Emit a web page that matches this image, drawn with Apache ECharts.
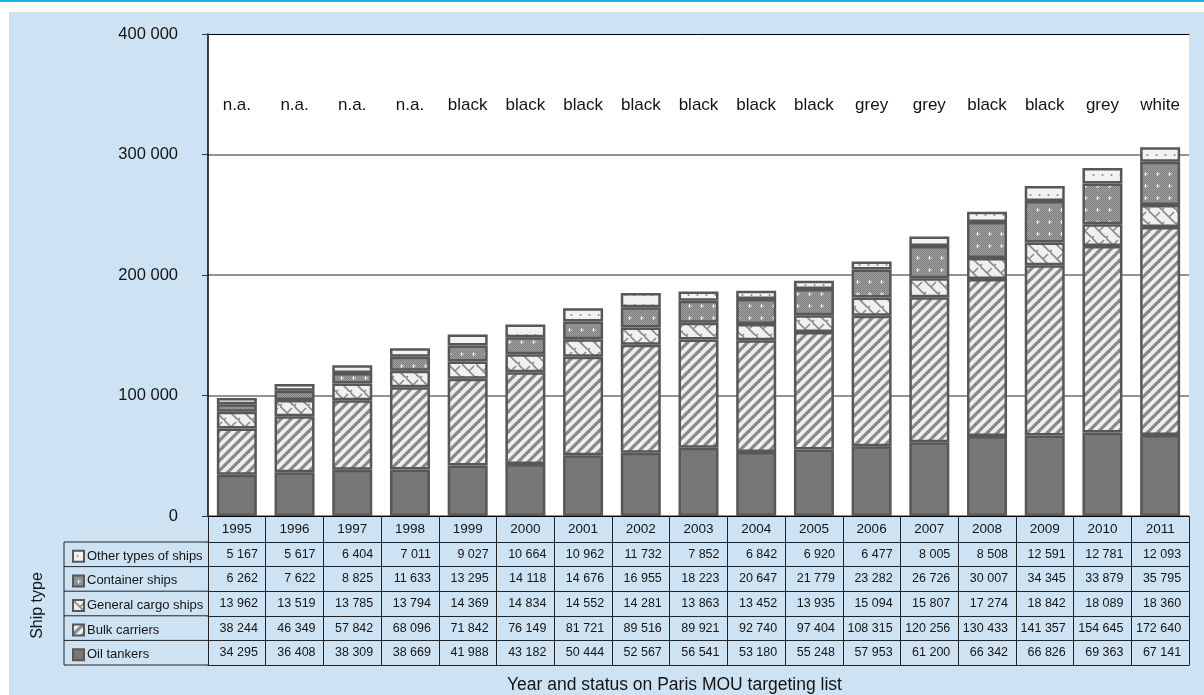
<!DOCTYPE html>
<html>
<head>
<meta charset="utf-8">
<script src="https://cdn.jsdelivr.net/npm/echarts@6.0.0/dist/echarts.min.js"></script>
<style>
  html, body { margin:0; padding:0; width:1204px; height:695px; overflow:hidden; background:#ffffff; }
  #topline { position:absolute; left:0; top:0; width:1204px; height:2px; background:#17b4e9; }
  #bg { position:absolute; left:9px; top:12px; width:1195px; height:683px; background:#cde3f3; }
  #chart { position:absolute; left:0; top:0; width:1204px; height:695px; }
</style>
</head>
<body>
<div id="topline"></div>
<div id="bg"></div>
<div id="chart"></div>
<script>
// ---------- data ----------
const years = ['1995','1996','1997','1998','1999','2000','2001','2002','2003','2004','2005','2006','2007','2008','2009','2010','2011'];
const statusList = ['n.a.','n.a.','n.a.','n.a.','black','black','black','black','black','black','black','grey','grey','black','black','grey','white'];
const oilTankers = [34295,36408,38309,38669,41988,43182,50444,52567,56541,53180,55248,57953,61200,66342,66826,69363,67141];
const bulkCarriers = [38244,46349,57842,68096,71842,76149,81721,89516,89921,92740,97404,108315,120256,130433,141357,154645,172640];
const generalCargo = [13962,13519,13785,13794,14369,14834,14552,14281,13863,13452,13935,15094,15807,17274,18842,18089,18360];
const containerShips = [6262,7622,8825,11633,13295,14118,14676,16955,18223,20647,21779,23282,26726,30007,34345,33879,35795];
const otherShips = [5167,5617,6404,7011,9027,10664,10962,11732,7852,6842,6920,6477,8005,8508,12591,12781,12093];
const seriesNames = ['Oil tankers','Bulk carriers','General cargo ships','Container ships','Other types of ships'];
const yMin = 0, yMax = 400000, yStep = 100000;
const xTitle = 'Year and status on Paris MOU targeting list';
const tableTitle = 'Ship type';

// ---------- style ----------
const FONT = "'Liberation Sans', Arial, sans-serif";
const TXT = '#141414';
const GRID_LEFT = 208, GRID_TOP = 34, GRID_RIGHT = 15, GRID_BOTTOM = 179;
const YEAR_ROW = 26, ROW_H = 24.6;
const TABLE_LEFT = 64;

function fmt(v) { return String(v).replace(/\B(?=(\d{3})+(?!\d))/g, ' '); }

function tile(w, h, draw) {
  const c = document.createElement('canvas');
  c.width = w; c.height = h;
  const g = c.getContext('2d');
  draw(g, w, h);
  return { image: c, repeat: 'repeat' };
}
const patBulk = tile(10, 10, (g, w, h) => {
  g.fillStyle = '#efefef'; g.fillRect(0, 0, w, h);
  g.strokeStyle = '#888888'; g.lineWidth = 3.2;
  for (let k = -1; k <= 1; k++) {
    g.beginPath(); g.moveTo(k * w - 2, h + 2); g.lineTo(k * w + w + 2, -2); g.stroke();
  }
});
const patGeneral = tile(14, 14, (g, w, h) => {
  g.fillStyle = '#f0f0f0'; g.fillRect(0, 0, w, h);
  g.strokeStyle = '#8a8a8a'; g.lineWidth = 1.6;
  g.beginPath(); g.moveTo(-1, -1); g.lineTo(w + 1, h + 1); g.stroke();
  g.beginPath(); g.moveTo(7, 7); g.lineTo(12, 2); g.stroke();
  g.beginPath(); g.moveTo(0, 14); g.lineTo(2, 12); g.stroke();
});
const patContainer = tile(12, 12, (g, w, h) => {
  g.fillStyle = '#9e9e9e'; g.fillRect(0, 0, w, h);
  g.fillStyle = '#808080';
  for (let x = 0; x < w; x++) for (let y = 0; y < h; y++) if ((x + y) % 2 === 0) g.fillRect(x, y, 1, 1);
  g.fillStyle = '#e6e6e6';
  g.fillRect(5, 4, 1, 4); g.fillRect(4, 5.5, 4, 1);
});
const patOther = tile(9, 10, (g, w, h) => {
  g.fillStyle = '#f2f2f2'; g.fillRect(0, 0, w, h);
  g.fillStyle = '#8a8a8a';
  g.beginPath(); g.arc(4.5, 5, 1, 0, Math.PI * 2); g.fill();
});
const fills = ['#777777', patBulk, patGeneral, patContainer, patOther];
const seriesData = [oilTankers, bulkCarriers, generalCargo, containerShips, otherShips];

// table rows (top to bottom)
const tableRows = [otherShips, containerShips, generalCargo, bulkCarriers, oilTankers];

function rowAxis(offset, values) {
  return {
    type: 'category', data: years, gridIndex: 0, position: 'bottom', offset: offset,
    axisLine: { show: true, lineStyle: { color: '#222', width: 1 } },
    axisTick: { show: true, interval: 0, length: ROW_H, lineStyle: { color: '#222', width: 1 } },
    axisLabel: {
      interval: 0, margin: ROW_H / 2, verticalAlign: 'middle',
      formatter: (v, i) => '{n|' + fmt(values[i]) + '}',
      rich: { n: { width: 42, align: 'right', fontSize: 12.5, fontFamily: FONT, color: TXT } }
    },
    splitLine: { show: false }
  };
}

const xAxes = [
  {
    type: 'category', data: years, position: 'bottom', offset: 0,
    axisLine: { show: true, lineStyle: { color: '#000', width: 1 } },
    axisTick: { show: true, interval: 0, length: YEAR_ROW, lineStyle: { color: '#222', width: 1 } },
    axisLabel: { interval: 0, margin: YEAR_ROW / 2, verticalAlign: 'middle', fontSize: 13.5, fontFamily: FONT, color: TXT },
    splitLine: { show: false }
  },
  {
    type: 'category', data: years, position: 'top', offset: 0,
    axisLine: { show: true, lineStyle: { color: '#000', width: 1 } },
    axisTick: { show: false },
    axisLabel: {
      inside: true, interval: 0, margin: 71, verticalAlign: 'middle',
      formatter: (v, i) => statusList[i],
      fontSize: 17, fontFamily: FONT, color: TXT
    },
    splitLine: { show: false }
  }
];
tableRows.forEach((vals, k) => xAxes.push(rowAxis(YEAR_ROW + k * ROW_H, vals)));
xAxes.push({
  type: 'category', data: years, position: 'bottom', offset: YEAR_ROW + 5 * ROW_H,
  axisLine: { show: true, lineStyle: { color: '#222', width: 1 } },
  axisTick: { show: false }, axisLabel: { show: false }, splitLine: { show: false },
  name: xTitle, nameLocation: 'middle', nameGap: 20,
  nameTextStyle: { fontSize: 17.5, fontFamily: FONT, color: TXT, verticalAlign: 'middle', padding: [0, 48, 0, 0] }
});

// label column lines (decoration)
const tableTop = 695 - GRID_BOTTOM + YEAR_ROW;
const graphics = [];
for (let k = 0; k <= 5; k++) {
  graphics.push({ type: 'line', shape: { x1: TABLE_LEFT, y1: tableTop + k * ROW_H, x2: GRID_LEFT, y2: tableTop + k * ROW_H }, style: { stroke: '#222', lineWidth: 1 }, silent: true });
}
graphics.push({ type: 'line', shape: { x1: TABLE_LEFT, y1: tableTop, x2: TABLE_LEFT, y2: tableTop + 5 * ROW_H }, style: { stroke: '#222', lineWidth: 1 }, silent: true });
graphics.push({
  type: 'text', x: 38, y: tableTop + 2.5 * ROW_H + 2, rotation: Math.PI / 2,
  style: { text: tableTitle, fontSize: 16, fontFamily: FONT, fill: TXT, textAlign: 'center', textVerticalAlign: 'middle' }, silent: true
});

const chart = echarts.init(document.getElementById('chart'), null, { renderer: 'canvas' });
chart.setOption({
  animation: false,
  backgroundColor: 'transparent',
  grid: { left: GRID_LEFT, top: GRID_TOP, right: GRID_RIGHT, bottom: GRID_BOTTOM, show: true, backgroundColor: '#ffffff', borderWidth: 0, containLabel: false, outerBoundsMode: 'none' },
  legend: {
    orient: 'vertical', left: TABLE_LEFT + 3, top: tableTop + (ROW_H - 16) / 2 - 3,
    itemWidth: 11, itemHeight: 11, itemGap: ROW_H - 16, selectedMode: false,
    data: seriesNames.slice().reverse(),
    icon: 'rect',
    textStyle: { fontSize: 13, lineHeight: 16, fontFamily: FONT, color: TXT, padding: [0, 0, 0, -2] }
  },
  xAxis: xAxes,
  yAxis: {
    type: 'value', min: yMin, max: yMax, interval: yStep,
    axisLine: { show: true, lineStyle: { color: '#000', width: 1.5 } },
    axisTick: { show: true, length: 6, lineStyle: { color: '#333', width: 1 } },
    axisLabel: { margin: 30, fontSize: 16.5, fontFamily: FONT, color: TXT, formatter: v => fmt(v) },
    splitLine: { show: true, showMaxLine: false, lineStyle: { color: '#6e6e6e', width: 1.6 } }
  },
  series: seriesNames.map((name, i) => ({
    name: name, type: 'bar', stack: 'total', xAxisIndex: 0, barWidth: 40,
    data: seriesData[i],
    itemStyle: { color: fills[i], borderColor: '#575757', borderWidth: 2.5 },
    emphasis: { disabled: true }
  })),
  graphic: graphics
});
</script>
</body>
</html>
